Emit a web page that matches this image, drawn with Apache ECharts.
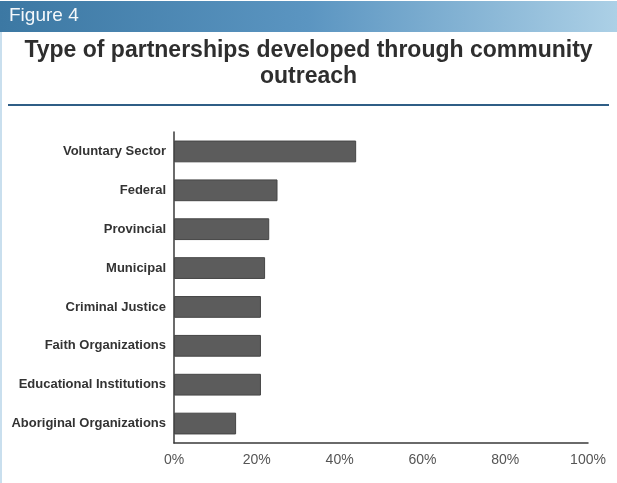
<!DOCTYPE html>
<html>
<head>
<meta charset="utf-8">
<script src="https://cdn.jsdelivr.net/npm/echarts@6/dist/echarts.min.js"></script>
<style>
  html, body { margin: 0; padding: 0; background: #ffffff; }
  #chart { width: 617px; height: 483px; }
</style>
</head>
<body>
<div id="chart"></div>
<script>
// Partnership types, listed top to bottom
const categories = [
  'Voluntary Sector',
  'Federal',
  'Provincial',
  'Municipal',
  'Criminal Justice',
  'Faith Organizations',
  'Educational Institutions',
  'Aboriginal Organizations'
];
// Share of respondents (%) reporting each partnership type
const shares = [44, 25, 23, 22, 21, 21, 21, 15];
// Percentage axis ticks
const tickValues = [0, 20, 40, 60, 80, 100];

const chart = echarts.init(document.getElementById('chart'));

chart.setOption({
  backgroundColor: '#ffffff',
  animation: false,
  title: {
    text: 'Type of partnerships developed through community\noutreach',
    left: 'center',
    top: 33,
    textStyle: {
      fontFamily: 'Liberation Sans, Arial, sans-serif',
      fontWeight: 'bold',
      fontSize: 23,
      lineHeight: 26,
      color: '#2e2e2e'
    }
  },
  graphic: [
    {
      type: 'rect',
      shape: { x: 0, y: 1, width: 617, height: 31 },
      style: {
        fill: new echarts.graphic.LinearGradient(0, 0, 1, 0, [
          { offset: 0, color: '#3c78a3' },
          { offset: 0.5, color: '#5b95c1' },
          { offset: 1, color: '#acd0e6' }
        ])
      },
      silent: true
    },
    {
      type: 'text',
      left: 9,
      top: 6,
      style: {
        text: 'Figure 4',
        fill: '#f4f8fb',
        fontFamily: 'Liberation Sans, Arial, sans-serif',
        fontSize: 19
      },
      silent: true
    },
    {
      type: 'line',
      shape: { x1: 8, y1: 105, x2: 609, y2: 105 },
      style: { stroke: '#2f5e86', lineWidth: 2 },
      silent: true
    },
    {
      type: 'line',
      shape: { x1: 1, y1: 32, x2: 1, y2: 483 },
      style: { stroke: '#c9dfee', lineWidth: 2 },
      silent: true
    }
  ],
  grid: {
    left: 174,
    right: 29,
    top: 132,
    bottom: 40,
    outerBoundsMode: 'none',
    containLabel: false
  },
  xAxis: {
    type: 'value',
    min: 0,
    max: 100,
    interval: 20,
    splitLine: { show: false },
    axisTick: { show: false },
    axisLine: { show: true, lineStyle: { color: '#3a3a3a', width: 1.5 } },
    axisLabel: {
      margin: 10,
      color: '#555555',
      fontFamily: 'Liberation Sans, Arial, sans-serif',
      fontSize: 14,
      formatter: function (v) {
        return tickValues.indexOf(v) >= 0 ? v + '%' : '';
      }
    }
  },
  yAxis: {
    type: 'category',
    data: categories,
    inverse: true,
    axisTick: { show: false },
    axisLine: { show: true, lineStyle: { color: '#3a3a3a', width: 1.5 } },
    axisLabel: {
      margin: 8,
      color: '#333333',
      fontFamily: 'Liberation Sans, Arial, sans-serif',
      fontWeight: 'bold',
      fontSize: 13
    }
  },
  series: [
    {
      type: 'bar',
      data: shares,
      barCategoryGap: '44%',
      itemStyle: {
        color: '#5c5c5c',
        borderColor: '#454545',
        borderWidth: 1
      },
      silent: true
    }
  ]
});
</script>
</body>
</html>
